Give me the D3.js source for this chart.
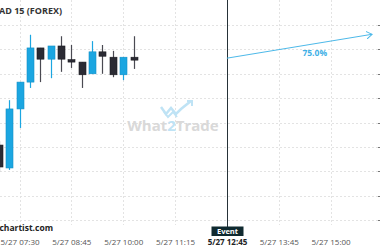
<!DOCTYPE html>
<html>
<head>
<meta charset="utf-8">
<script src="https://cdn.jsdelivr.net/npm/d3@7"></script>
<style>
  body { margin: 0; background: #fff; }
  svg { display: block; font-family: "Open Sans", sans-serif; }
</style>
</head>
<body>
<div id="chart"></div>
<script>
// candles, 15 minute bars
var times  = ["07:00","07:15","07:30","07:45","08:00","08:15","08:30","08:45","09:00","09:15","09:30","09:45","10:00","10:15"];
var opens  = [1.37254,1.37207,1.37328,1.37383,1.37453,1.37430,1.37457,1.37429,1.37424,1.37400,1.37445,1.37434,1.37398,1.37434];
var highs  = [1.37262,1.37346,1.37383,1.37480,1.37453,1.37457,1.37477,1.37459,1.37424,1.37467,1.37459,1.37447,1.37434,1.37477];
var lows   = [1.37200,1.37203,1.37289,1.37371,1.37383,1.37391,1.37404,1.37412,1.37371,1.37400,1.37400,1.37393,1.37387,1.37410];
var closes = [1.37209,1.37328,1.37383,1.37453,1.37430,1.37457,1.37430,1.37424,1.37398,1.37445,1.37436,1.37398,1.37434,1.37428];

var tickTimes = ["07:30","08:45","10:00","11:15","13:45","15:00"];
var eventTime = "12:30";
var eventText = "5/27 12:45";
var forecastFrom = ["12:30", 1.37432];
var forecastTo   = ["16:00", 1.37481];
var forecastLabel = "75.0%";
var title = "USDCAD 15 (FOREX)";

var W = 380, H = 250;
var blue = "#1ba6e1", dark = "#2b2b34";

function t(s) {
	var p = s.split(":");
	return new Date(2024, 4, 27, +p[0], +p[1]);
}

var svg = d3.select("#chart").append("svg")
	.attr("width", W).attr("height", H);

var x = d3.scaleTime()
	.domain([t("07:30"), t("15:00")])
	.range([19.5, 330.6]);

var y = d3.scaleLinear()
	.domain([1.3710, 1.3750])
	.range([220.2, 25]);

// grid
svg.append("g").selectAll("line")
	.data(y.ticks(8))
	.join("line")
	.attr("x1", 0).attr("x2", W)
	.attr("y1", d => Math.round(y(d)) + 0.5).attr("y2", d => Math.round(y(d)) + 0.5)
	.attr("stroke", "#e3e3e3").attr("stroke-dasharray", "2,2");

svg.append("g").selectAll("line")
	.data(tickTimes)
	.join("line")
	.attr("x1", d => Math.round(x(t(d))) + 0.5).attr("x2", d => Math.round(x(t(d))) + 0.5)
	.attr("y1", 0).attr("y2", 225)
	.attr("stroke", "#e3e3e3").attr("stroke-dasharray", "2,2");

// right edge ticks
svg.append("g").selectAll("line")
	.data(y.ticks(8))
	.join("line")
	.attr("x1", W - 2).attr("x2", W)
	.attr("y1", d => Math.round(y(d)) + 0.5).attr("y2", d => Math.round(y(d)) + 0.5)
	.attr("stroke", "#777");

// watermark
var wm = svg.append("g").attr("transform", "translate(173,131)");
wm.append("path")
	.attr("d", "M-12,-24 L-7,-17 L-2,-23 L3,-17 L8,-22 L18,-30")
	.attr("fill", "none").attr("stroke", "#bfe3f5").attr("stroke-width", 2.5);
wm.append("path")
	.attr("d", "M-9,-19 L-5,-14 L0,-19 L4,-14")
	.attr("fill", "none").attr("stroke", "#bfe3f5").attr("stroke-width", 2);
wm.append("path")
	.attr("d", "M14,-30 L19,-30 L19,-25")
	.attr("fill", "none").attr("stroke", "#bfe3f5").attr("stroke-width", 2);
var wt = wm.append("text")
	.attr("text-anchor", "middle")
	.attr("font-size", 15).attr("font-weight", "bold")
	.attr("fill", "#d9d9d9");
wt.append("tspan").text("What");
wt.append("tspan").attr("fill", "#bfe3f5").text("2");
wt.append("tspan").text("Trade");

// candles
var candles = times.map((d, i) => ({ time: t(d), o: opens[i], h: highs[i], l: lows[i], c: closes[i] }));
var cw = 7;
var cg = svg.append("g").selectAll("g")
	.data(candles)
	.join("g");
cg.append("line")
	.attr("x1", d => Math.round(x(d.time)) + 0.5).attr("x2", d => Math.round(x(d.time)) + 0.5)
	.attr("y1", d => y(d.h)).attr("y2", d => y(d.l))
	.attr("stroke", d => d.c >= d.o ? blue : "#4a4a52")
	.attr("stroke-width", 1.2);
cg.append("rect")
	.attr("x", d => Math.round(x(d.time)) + 0.5 - cw / 2)
	.attr("width", cw)
	.attr("y", d => y(Math.max(d.o, d.c)))
	.attr("height", d => Math.max(2, Math.abs(y(d.o) - y(d.c))))
	.attr("fill", d => d.c >= d.o ? blue : dark)
	.attr("stroke", d => d.c >= d.o ? "#1590c7" : "#1c1c22")
	.attr("stroke-width", 0.6);

// event line
var ex = Math.round(x(t(eventTime))) + 0.5;
svg.append("line")
	.attr("x1", ex).attr("x2", ex)
	.attr("y1", 0).attr("y2", 227)
	.attr("stroke", "#263238").attr("stroke-width", 1);

// forecast arrow
svg.append("defs").append("marker")
	.attr("id", "arr")
	.attr("markerWidth", 8).attr("markerHeight", 8)
	.attr("refX", 6).attr("refY", 4)
	.attr("orient", "auto")
	.attr("markerUnits", "userSpaceOnUse")
	.append("path")
	.attr("d", "M0,0 L6,4 L0,8")
	.attr("fill", "none").attr("stroke", "#4db9e9").attr("stroke-width", 1);

var fx1 = x(t(forecastFrom[0])), fy1 = y(forecastFrom[1]);
var fx2 = x(t(forecastTo[0])), fy2 = y(forecastTo[1]);
svg.append("line")
	.attr("x1", fx1).attr("y1", fy1)
	.attr("x2", fx2).attr("y2", fy2)
	.attr("stroke", "#4db9e9").attr("stroke-width", 1)
	.attr("marker-end", "url(#arr)");
svg.append("text")
	.attr("x", fx1 + (fx2 - fx1) * 0.605)
	.attr("y", fy1 + (fy2 - fy1) * 0.605 + 12)
	.attr("text-anchor", "middle")
	.attr("font-size", 8.5).attr("font-weight", "bold")
	.attr("fill", "#3fb0e6")
	.text(forecastLabel);

// title and source
svg.append("text")
	.attr("x", 62).attr("y", 14)
	.attr("text-anchor", "end")
	.attr("font-size", 9).attr("font-weight", "bold")
	.attr("fill", "#333")
	.text(title);
svg.append("text")
	.attr("x", 53).attr("y", 231)
	.attr("text-anchor", "end")
	.attr("font-size", 8.5).attr("font-weight", "bold")
	.attr("fill", "#222")
	.text("Autochartist.com");

// x axis
var xAxis = d3.axisBottom(x)
	.tickValues(tickTimes.map(t))
	.tickSize(0)
	.tickFormat(d3.timeFormat("5/27 %H:%M"));
var ax = svg.append("g")
	.attr("transform", "translate(0,236)")
	.call(xAxis);
ax.select(".domain").remove();
ax.selectAll("text")
	.attr("font-family", "Open Sans, sans-serif")
	.attr("font-size", 8).attr("fill", "#555");

// event marker on axis
var eg = svg.append("g").attr("transform", `translate(${ex},0)`);
eg.append("rect")
	.attr("x", -16).attr("y", 226.5)
	.attr("width", 32).attr("height", 9.5)
	.attr("fill", "#102a30");
eg.append("text")
	.attr("y", 234)
	.attr("text-anchor", "middle")
	.attr("font-size", 7.5).attr("font-weight", "bold")
	.attr("fill", "#fff")
	.text("Event");
eg.append("text")
	.attr("y", 245)
	.attr("text-anchor", "middle")
	.attr("font-size", 8).attr("font-weight", "bold")
	.attr("fill", "#222")
	.text(eventText);
</script>
</body>
</html>
